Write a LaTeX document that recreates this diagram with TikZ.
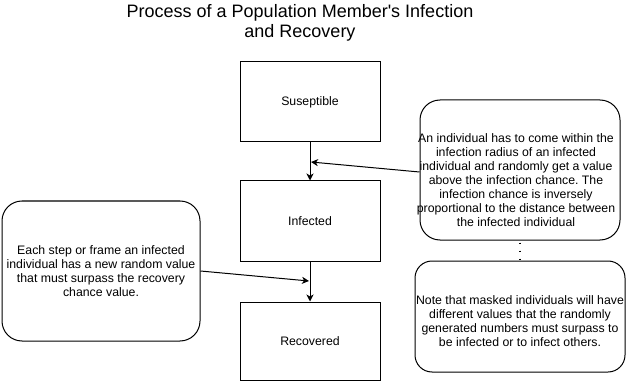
\documentclass[tikz,border=0pt]{standalone}
\usepackage{fontspec}
\setmainfont{Liberation Sans}[Ligatures=TeXOff]
\usetikzlibrary{arrows.meta}
\frenchspacing
\begin{document}
\begin{tikzpicture}[x=1pt,y=-1pt,
  state/.style={draw, line width=1pt, minimum width=140pt, minimum height=80pt,
    inner sep=0pt, font=\fontsize{12.3}{14}\selectfont},
  note/.style={draw, line width=1pt, rounded corners=20pt, inner sep=0pt},
  notetext/.style={align=center, inner sep=0pt, font=\fontsize{12.3}{14}\selectfont},
  flow/.style={-{Stealth[length=7pt,width=7pt,inset=2pt]}, line width=1pt},
]
\useasboundingbox (0,0) rectangle (626,382);

% title
\node[align=center, font=\fontsize{18}{20}\selectfont] (title) at (300,23)
  {Process of a Population Member's Infection\\and Recovery};

% the three states
\node[state] (sus) at (310,102) {Suseptible};
\node[state] (inf) at (310,221) {Infected};
\node[state, minimum height=78pt] (rec) at (310,341) {Recovered};

% explanatory notes
\node[note, minimum width=200pt, minimum height=140pt] (infnote) at (520,170) {};
\node[notetext] (infnotetext) at (516,180)
  {An individual has to come within the\\infection radius of an infected\\individual and randomly get a value\\above the infection chance. The\\infection chance is inversely\\proportional to the distance between\\the infected individual};

\node[note, rounded corners=17pt, minimum width=210pt, minimum height=111pt] (masknote) at (520,316.5) {};
\node[notetext] (masknotetext) at (520,321)
  {Note that masked individuals will have\\different values that the randomly\\generated numbers must surpass to\\be infected or to infect others.};

\node[note, minimum width=198pt, minimum height=140pt, notetext] (recnote) at (101,271)
  {Each step or frame an infected\\individual has a new random value\\that must surpass the recovery\\chance value.};

% transitions
\draw[flow] (sus) -- (inf);
\draw[flow] (inf) -- (rec);

% notes pointing at the transitions
\coordinate (susinf) at (311,162);
\coordinate (increc) at (309,281);
\draw[flow] ([yshift=-2pt]infnote.west) -- (susinf);
\draw[flow] (recnote.east) -- (increc);

% link between the two right-hand notes
\draw[line width=1.6pt, dash pattern=on 1.6pt off 6.4pt, dash phase=-2.2pt]
  (infnote.south) -- (masknote.north);
\end{tikzpicture}
\end{document}
